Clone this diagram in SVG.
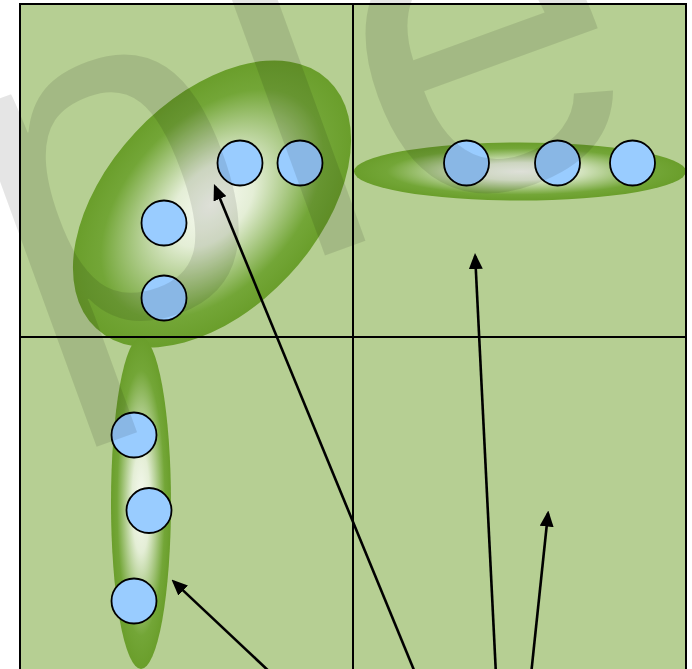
<svg xmlns="http://www.w3.org/2000/svg" width="692" height="669" viewBox="0 0 692 669">
  <style>
    .grid { fill: none; stroke: #000; stroke-width: 2; }
    .cell { fill: #b6cf93; }
    .dot { fill: #99ccff; stroke: #000; stroke-width: 1.8; }
    .arrow { fill: none; stroke: #000; stroke-width: 2.6; marker-end: url(#ah); }
    .wm { font-family: "Liberation Sans", Arial, sans-serif; font-size: 490px; letter-spacing: 7.5px; fill: #000; fill-opacity: 0.1; }
  </style>
  <defs>
    <radialGradient id="glow" cx="0.5" cy="0.5" r="0.5">
      <stop offset="0" stop-color="#f7faf1"/>
      <stop offset="0.3" stop-color="#e4eed6"/>
      <stop offset="0.8" stop-color="#73a637"/>
      <stop offset="1" stop-color="#6a9e2b"/>
    </radialGradient>
    <marker id="ah" markerUnits="userSpaceOnUse" markerWidth="16" markerHeight="14" refX="13" refY="7" orient="auto">
      <path d="M0,0 L16,7 L0,14 z" fill="#000"/>
    </marker>
  </defs>

  <rect class="cell" x="20" y="4" width="666" height="666"/>

  <g id="ellipses">
    <ellipse id="cluster-tl" cx="212" cy="204" rx="170" ry="105" transform="rotate(-47 212 204)" fill="url(#glow)"/>
    <ellipse id="cluster-tr" cx="520" cy="171.5" rx="166" ry="29" fill="url(#glow)"/>
    <ellipse id="cluster-bl" cx="141" cy="503" rx="30" ry="166" fill="url(#glow)"/>
  </g>

  <g id="grid">
    <rect class="grid" x="20" y="4" width="666" height="666"/>
    <line class="grid" x1="353" y1="4" x2="353" y2="670"/>
    <line class="grid" x1="20" y1="337" x2="686" y2="337"/>
  </g>

  <g id="node-tl-1"><circle class="dot" cx="240" cy="163" r="22.5"/></g>
  <g id="node-tl-2"><circle class="dot" cx="300" cy="163" r="22.5"/></g>
  <g id="node-tl-3"><circle class="dot" cx="164" cy="223" r="22.5"/></g>
  <g id="node-tl-4"><circle class="dot" cx="164" cy="298" r="22.5"/></g>
  <g id="node-tr-1"><circle class="dot" cx="466.5" cy="163" r="22.5"/></g>
  <g id="node-tr-2"><circle class="dot" cx="557.5" cy="163" r="22.5"/></g>
  <g id="node-tr-3"><circle class="dot" cx="632.5" cy="163" r="22.5"/></g>
  <g id="node-bl-1"><circle class="dot" cx="134" cy="435" r="22.5"/></g>
  <g id="node-bl-2"><circle class="dot" cx="149" cy="510.5" r="22.5"/></g>
  <g id="node-bl-3"><circle class="dot" cx="134" cy="601" r="22.5"/></g>

  <g id="connectors">
    <line class="arrow" x1="416" y1="675" x2="215.1" y2="186.8"/>
    <line class="arrow" x1="496" y1="675" x2="475.15" y2="256"/>
    <line class="arrow" x1="531" y1="675" x2="548" y2="513.5"/>
    <line class="arrow" x1="273" y1="675" x2="173.7" y2="581.6"/>
  </g>

  <text class="wm" x="0" y="0" transform="translate(30.8 362.6) rotate(-20)">ple</text>
</svg>
